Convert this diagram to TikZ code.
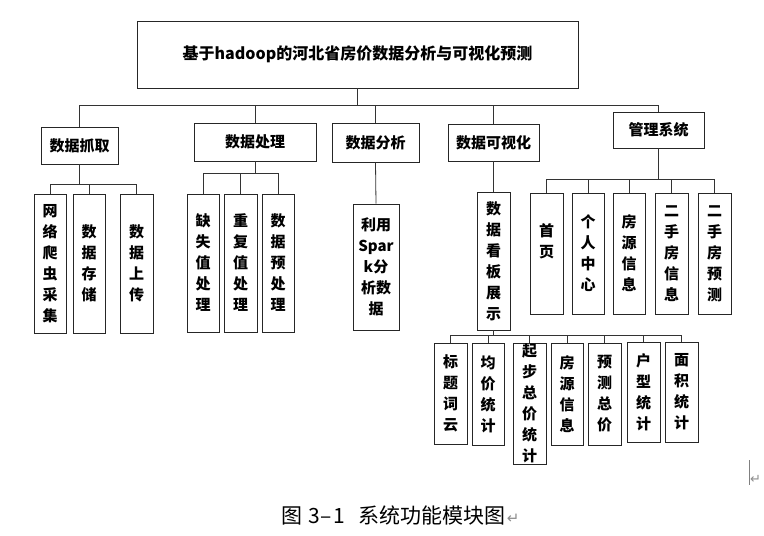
\documentclass[tikz,border=0pt]{standalone}
\usepackage{fontspec}
\setmainfont{Noto Sans CJK SC}
\newfontfamily\dvfont{DejaVu Sans}
\begin{document}
\begin{tikzpicture}[x=1pt,y=-1pt,
  box/.style={draw=black!85, line width=0.9pt, fill=white, inner sep=0pt, align=center,
    font=\bfseries\fontsize{15}{21}\selectfont},
  conn/.style={draw=black!80, line width=0.8pt},
  vtext/.style={inner sep=0pt, align=center, font=\bfseries\fontsize{15}{21}\selectfont}]
\useasboundingbox[fill=white] (0,0) rectangle (764,536);

% title
\node[box, minimum width=441pt, minimum height=67pt, font=\bfseries\fontsize{16}{20}\selectfont] (t) at (357.5,54.5) {基于hadoop的河北省房价数据分析与可视化预测};

% level 1
\node[box, minimum width=77pt, minimum height=37pt] (c1) at (79.5,145.5) {数据抓取};
\node[box, minimum width=122pt, minimum height=38pt] (c2) at (255,142) {数据处理};
\node[box, minimum width=87pt, minimum height=39pt] (c3) at (375.5,142.5) {数据分析};
\node[box, minimum width=91pt, minimum height=37pt] (c4) at (493.5,142.5) {数据可视化};
\node[box, minimum width=91pt, minimum height=36pt] (c5) at (658.5,130) {管理系统};

% level 2
\node[box, minimum width=32pt, minimum height=139pt] (g1) at (50,263.5) {网\\络\\爬\\虫\\采\\集};
\node[box, minimum width=32pt, minimum height=139pt] (g2) at (89,263.5) {数\\据\\存\\储};
\node[box, minimum width=33pt, minimum height=139pt] (g3) at (136.5,263.5) {数\\据\\上\\传};

\node[box, minimum width=32pt, minimum height=138pt] (p1) at (203,263) {缺\\失\\值\\处\\理};
\node[box, minimum width=33pt, minimum height=138pt] (p2) at (240.5,263) {重\\复\\值\\处\\理};
\node[box, minimum width=32pt, minimum height=138pt] (p3) at (278,263) {数\\据\\预\\处\\理};

\node[box, minimum width=46pt, minimum height=126pt] (a1) at (376,267) {利用\\Spar\\k分\\析数\\据};

\node[box, minimum width=33pt, minimum height=138pt] (v1) at (493.5,261) {数\\据\\看\\板\\展\\示};

\node[box, minimum width=33pt, minimum height=121pt] (m1) at (546.5,253.5) {};
\node[vtext] (m1t) at (546.5,241) {首\\页};
\node[box, minimum width=32pt, minimum height=121pt] (m2) at (588,253.5) {个\\人\\中\\心};
\node[box, minimum width=32pt, minimum height=121pt] (m3) at (629,253.5) {房\\源\\信\\息};
\node[box, minimum width=33pt, minimum height=121pt] (m4) at (671.5,253.5) {二\\手\\房\\信\\息};
\node[box, minimum width=33pt, minimum height=121pt] (m5) at (714.5,253.5) {二\\手\\房\\预\\测};

% level 3
\node[box, minimum width=33pt, minimum height=101pt] (d1) at (450.5,393.5) {标\\题\\词\\云};
\node[box, minimum width=32pt, minimum height=102pt] (d2) at (488,394) {均\\价\\统\\计};
\node[box, minimum width=33pt, minimum height=121pt] (d3) at (529.5,403.5) {起\\步\\总\\价\\统\\计};
\node[box, minimum width=32pt, minimum height=102pt] (d4) at (567,394) {房\\源\\信\\息};
\node[box, minimum width=33pt, minimum height=102pt] (d5) at (604.5,394) {预\\测\\总\\价};
\node[box, minimum width=33pt, minimum height=100pt] (d6) at (643.5,392) {户\\型\\统\\计};
\node[box, minimum width=33pt, minimum height=100pt] (d7) at (681.5,392) {面\\积\\统\\计};

% connectors
\foreach \c in {c1,c2,c3,c4,c5} \draw[conn] (t.south) -- ++(0,17) -| (\c.north);
\foreach \c in {g1,g2,g3} \draw[conn] (c1.south) -- ++(0,20) -| (\c.north);
\foreach \c in {p1,p2,p3} \draw[conn] (c2.south) -- ++(0,12) -| (\c.north);
\draw[conn] (c3.south) -- (a1.north);
\draw[conn] (c4.south) -- (v1.north);
\foreach \c in {m1,m2,m3,m4,m5} \draw[conn] (c5.south) -- ++(0,31) -| (\c.north);
\foreach \c in {d1,d2,d3,d4,d5,d6,d7} \draw[conn] (v1.south) -- ++(0,5) -| (\c.north);

% caption
\node[anchor=west, inner sep=0pt, font=\fontsize{21}{24}\selectfont] (cap) at (281,515)
  {图\hspace{6pt}3\hspace{1pt}–\hspace{1pt}1\hspace{14pt}系统功能模块图\hspace{1pt}{\dvfont\fontsize{15}{16}\selectfont\color{black!45}↵}};

% page mark
\coordinate (k1) at (749,460);
\coordinate (k2) at (749,485);
\draw[black!50, line width=0.6pt] (k1) -- (k2);
\node[anchor=west, inner sep=0pt, font=\dvfont\fontsize{13}{14}\selectfont, text=black!45] (pm) at (750,479) {↵};
\end{tikzpicture}
\end{document}
